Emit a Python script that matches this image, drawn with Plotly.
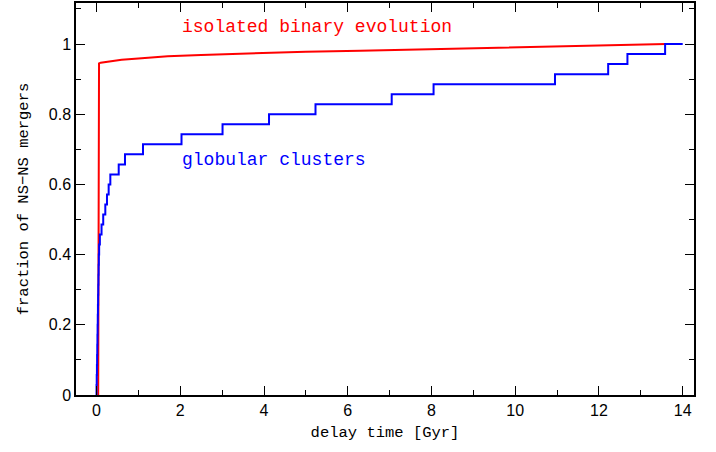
import plotly.graph_objects as go

# Globular cluster NS-NS merger delay times (Gyr), cumulative steps of 1/35
gc_times = [0.0, 0.005, 0.01, 0.014, 0.018, 0.022, 0.026, 0.03, 0.034, 0.038,
            0.042, 0.046, 0.05, 0.055, 0.063, 0.08, 0.12, 0.16, 0.21, 0.25,
            0.29, 0.33, 0.53, 0.68, 1.11, 2.03, 3.01, 4.12, 5.23, 7.05,
            8.05, 10.95, 12.22, 12.68, 13.58]
gc_end = 14.0
n_gc = len(gc_times)
gc_x = [0.0] + gc_times + [gc_end]
gc_y = [0.0] + [(i + 1) / n_gc for i in range(n_gc)] + [1.0]

# Isolated binary evolution cumulative fraction
iso_x = [0.04, 0.045, 0.06, 0.1, 0.2, 0.35, 0.6, 1.0, 1.7, 2.5, 3.5, 5.0,
         6.3, 7.5, 9.0, 10.5, 11.8, 13.0, 13.6]
iso_y = [0.0, 0.943, 0.945, 0.947, 0.949, 0.951, 0.955, 0.959, 0.965, 0.969,
         0.973, 0.978, 0.981, 0.984, 0.988, 0.991, 0.994, 0.997, 1.0]

mono = "Liberation Mono, Courier New, monospace"
sans = "Liberation Sans, Arial, sans-serif"

fig = go.Figure()
fig.add_trace(go.Scatter(x=iso_x, y=iso_y, mode="lines",
                         line=dict(color="#ff0000", width=2), showlegend=False))
fig.add_trace(go.Scatter(x=gc_x, y=gc_y, mode="lines", line_shape="hv",
                         line=dict(color="#0000ff", width=2), showlegend=False))

fig.add_annotation(x=2.0, y=1.05, text="isolated binary evolution", showarrow=False,
                   xanchor="left", yanchor="middle",
                   font=dict(family=mono, size=18, color="#ff0000"))
fig.add_annotation(x=2.0, y=0.67, text="globular clusters", showarrow=False,
                   xanchor="left", yanchor="middle",
                   font=dict(family=mono, size=18, color="#0000ff"))

axis_common = dict(showline=True, linecolor="black", linewidth=1.5, mirror="ticks",
                   ticks="inside", ticklen=9, tickwidth=1, tickcolor="black",
                   showgrid=False, zeroline=False, automargin=False,
                   tickfont=dict(family=sans, size=16, color="black"))

fig.update_xaxes(range=[-0.49, 14.27], tick0=0, dtick=2,
                 minor=dict(ticks="inside", ticklen=5, dtick=1, tick0=0, tickcolor="black", showgrid=False),
                 title=dict(text="delay time [Gyr]", font=dict(family=mono, size=15.5, color="black"), standoff=8),
                 **axis_common)
fig.update_yaxes(range=[0, 1.117], tick0=0, dtick=0.2,
                 minor=dict(ticks="inside", ticklen=5, dtick=0.1, tick0=0, tickcolor="black", showgrid=False),
                 title=dict(text="fraction of NS\u2212NS mergers", font=dict(family=mono, size=15.5, color="black"), standoff=16),
                 **axis_common)

fig.update_layout(width=716, height=452, plot_bgcolor="white", paper_bgcolor="white",
                  margin=dict(l=76, r=22, t=3, b=57))

fig.write_html("out.html", config={"displayModeBar": False},
               post_script="document.body.style.margin='0';")
